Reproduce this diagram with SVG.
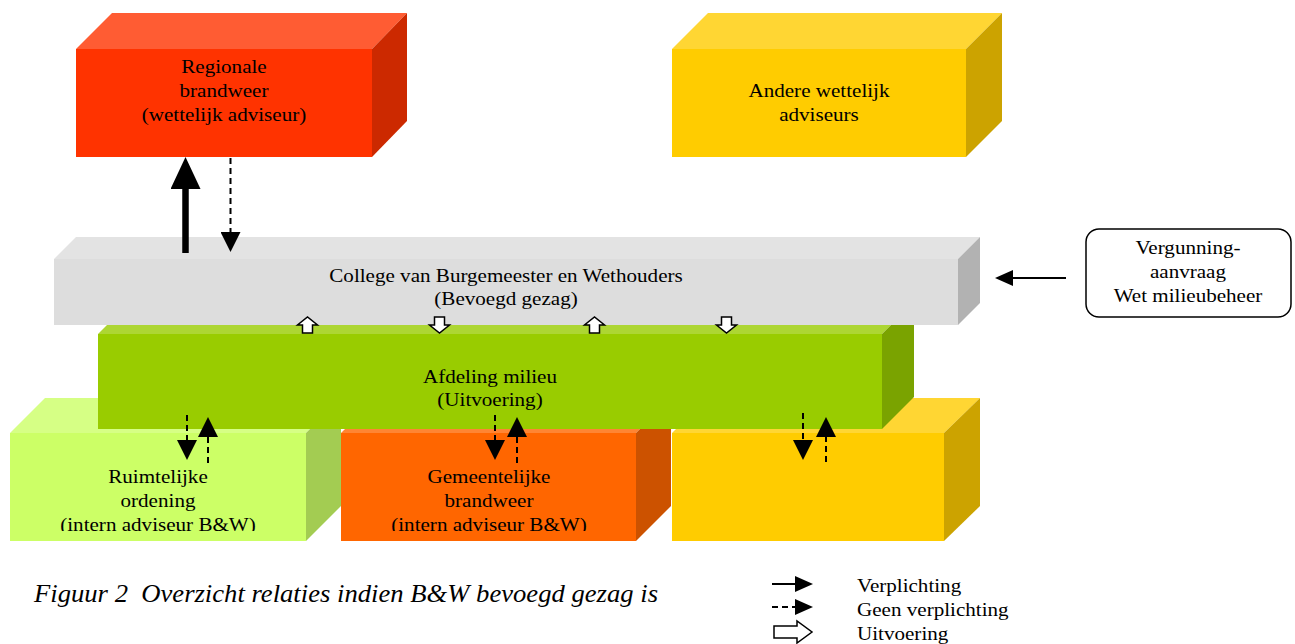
<svg xmlns="http://www.w3.org/2000/svg" width="1295" height="644" viewBox="0 0 1295 644">
<style>
text{font-family:"Liberation Serif","Times New Roman",serif;font-size:19px;fill:#000;text-anchor:middle}
.lg{text-anchor:start}
.cap{font-size:26px;font-style:italic;text-anchor:start}
.solid{stroke:#000;stroke-width:2;fill:none}
.dash{stroke:#000;stroke-width:2;fill:none;stroke-dasharray:6 4}
.blk{fill:#fff;stroke:#000;stroke-width:1.5;stroke-linejoin:miter}
</style>
<defs>
<marker id="hd" markerUnits="userSpaceOnUse" markerWidth="20" markerHeight="20" refX="0" refY="10" orient="auto"><path d="M0,0 L20,10 L0,20 Z" fill="#000"/></marker>
<marker id="hdL" markerUnits="userSpaceOnUse" markerWidth="32" markerHeight="30" refX="0" refY="15" orient="auto"><path d="M0,0 L32,15 L0,30 Z" fill="#000"/></marker>
<marker id="hdS" markerUnits="userSpaceOnUse" markerWidth="18" markerHeight="16" refX="0" refY="8" orient="auto"><path d="M0,0 L18,8 L0,16 Z" fill="#000"/></marker>
<path id="blkUp" d="M-5,8 L-5,0 L-10,0 L0,-8 L10,0 L5,0 L5,8 Z"/>
<clipPath id="clipBot"><rect x="0" y="380" width="1295" height="151"/></clipPath>
</defs>

<g id="node-ruimtelijke">
<polygon points="10,433 45,398 341,398 306,433" fill="#D6FF85"/>
<polygon points="306,433 341,398 341,506 306,541" fill="#A3CC52"/>
<rect x="10" y="433" width="296" height="108" fill="#CCFF66"/>
<g clip-path="url(#clipBot)">
<g transform="matrix(1.11,0,0,1,-17.38,0)">
<text x="158" y="483">Ruimtelijke</text>
<text x="158" y="507">ordening</text>
<text x="158" y="531">(intern adviseur B&amp;W)</text>
</g>
</g>
</g>

<g id="node-gemeentelijke">
<polygon points="341,433 376,398 671,398 636,433" fill="#FF8533"/>
<polygon points="636,433 671,398 671,506 636,541" fill="#CC5200"/>
<rect x="341" y="433" width="295" height="108" fill="#FF6600"/>
<g clip-path="url(#clipBot)">
<g transform="matrix(1.11,0,0,1,-53.79,0)">
<text x="489" y="483">Gemeentelijke</text>
<text x="489" y="507">brandweer</text>
<text x="489" y="531">(intern adviseur B&amp;W)</text>
</g>
</g>
</g>

<g id="node-geel-onder">
<polygon points="672,433 707,398 980,398 944,433" fill="#FFD633"/>
<polygon points="944,433 980,398 980,506 944,541" fill="#CCA300"/>
<rect x="672" y="433" width="272" height="108" fill="#FFCC00"/>
</g>

<g id="node-afdeling-milieu">
<polygon points="98,334 130,302 914,302 882,334" fill="#ADD633"/>
<polygon points="882,334 914,302 914,397 882,429" fill="#7AA300"/>
<rect x="98" y="334" width="784" height="95" fill="#99CC00"/>
<g transform="matrix(1.11,0,0,1,-53.9,0)">
<text x="490" y="383">Afdeling milieu</text>
<text x="490" y="406">(Uitvoering)</text>
</g>
</g>

<g id="node-college">
<polygon points="54,259 76,237 980,237 958,259" fill="#E3E3E3"/>
<polygon points="958,259 980,237 980,303 958,325" fill="#B2B2B2"/>
<rect x="54" y="259" width="904" height="66" fill="#DDDDDD"/>
<g transform="matrix(1.11,0,0,1,-55.66,0)">
<text x="506" y="282">College van Burgemeester en Wethouders</text>
<text x="506" y="305">(Bevoegd gezag)</text>
</g>
</g>

<g id="node-regionale-brandweer">
<polygon points="76,49 112,13 407,13 372,49" fill="#FF5C33"/>
<polygon points="372,49 407,13 407,121 372,157" fill="#CC2900"/>
<rect x="76" y="49" width="296" height="108" fill="#FF3300"/>
<g transform="matrix(1.11,0,0,1,-24.64,0)">
<text x="224" y="73">Regionale</text>
<text x="224" y="97">brandweer</text>
<text x="224" y="121">(wettelijk adviseur)</text>
</g>
</g>

<g id="node-andere-adviseurs">
<polygon points="672,49 708,13 1002,13 966,49" fill="#FFD633"/>
<polygon points="966,49 1002,13 1002,121 966,157" fill="#CCA300"/>
<rect x="672" y="49" width="294" height="108" fill="#FFCC00"/>
<g transform="matrix(1.11,0,0,1,-90.09,0)">
<text x="819" y="97">Andere wettelijk</text>
<text x="819" y="121">adviseurs</text>
</g>
</g>

<g id="node-vergunningaanvraag">
<rect x="1086" y="229" width="205" height="88" rx="13" ry="13" fill="#fff" stroke="#000" stroke-width="1.5"/>
<g transform="matrix(1.11,0,0,1,-130.68,0)">
<text x="1188" y="254">Vergunning-</text>
<text x="1188" y="278">aanvraag</text>
<text x="1188" y="302">Wet milieubeheer</text>
</g>
</g>

<g id="connectors">
<line x1="185.5" y1="253" x2="185.5" y2="189" stroke="#000" stroke-width="6.5" marker-end="url(#hdL)"/>
<line x1="230.5" y1="158" x2="230.5" y2="232" class="dash" marker-end="url(#hd)"/>
<line x1="1066" y1="278" x2="1013" y2="278" class="solid" marker-end="url(#hdS)"/>

<use href="#blkUp" class="blk" transform="translate(307.5,325)"/>
<use href="#blkUp" class="blk" transform="translate(439.5,325) rotate(180)"/>
<use href="#blkUp" class="blk" transform="translate(594.5,325)"/>
<use href="#blkUp" class="blk" transform="translate(726.5,325) rotate(180)"/>

<line x1="187" y1="415" x2="187" y2="440" class="dash" marker-end="url(#hd)"/>
<line x1="208" y1="463" x2="208" y2="437" class="dash" marker-end="url(#hd)"/>
<line x1="495" y1="415" x2="495" y2="440" class="dash" marker-end="url(#hd)"/>
<line x1="517" y1="463" x2="517" y2="437" class="dash" marker-end="url(#hd)"/>
<line x1="803" y1="413" x2="803" y2="440" class="dash" marker-end="url(#hd)"/>
<line x1="826" y1="462" x2="826" y2="437" class="dash" marker-end="url(#hd)"/>
</g>

<g id="legend">
<line x1="772" y1="584" x2="795" y2="584" class="solid" marker-end="url(#hdS)"/>
<line x1="772" y1="607" x2="795" y2="607" class="dash" marker-end="url(#hdS)"/>
<path class="blk" d="M774,626 L797,626 L797,621 L812,632 L797,643 L797,638 L774,638 Z"/>
<g transform="matrix(1.11,0,0,1,-94.27,0)">
<text class="lg" x="857" y="592">Verplichting</text>
<text class="lg" x="857" y="616">Geen verplichting</text>
<text class="lg" x="857" y="640">Uitvoering</text>
</g>
</g>

<text class="cap" x="34" y="602" textLength="624" lengthAdjust="spacingAndGlyphs" xml:space="preserve">Figuur 2  Overzicht relaties indien B&amp;W bevoegd gezag is</text>
</svg>
